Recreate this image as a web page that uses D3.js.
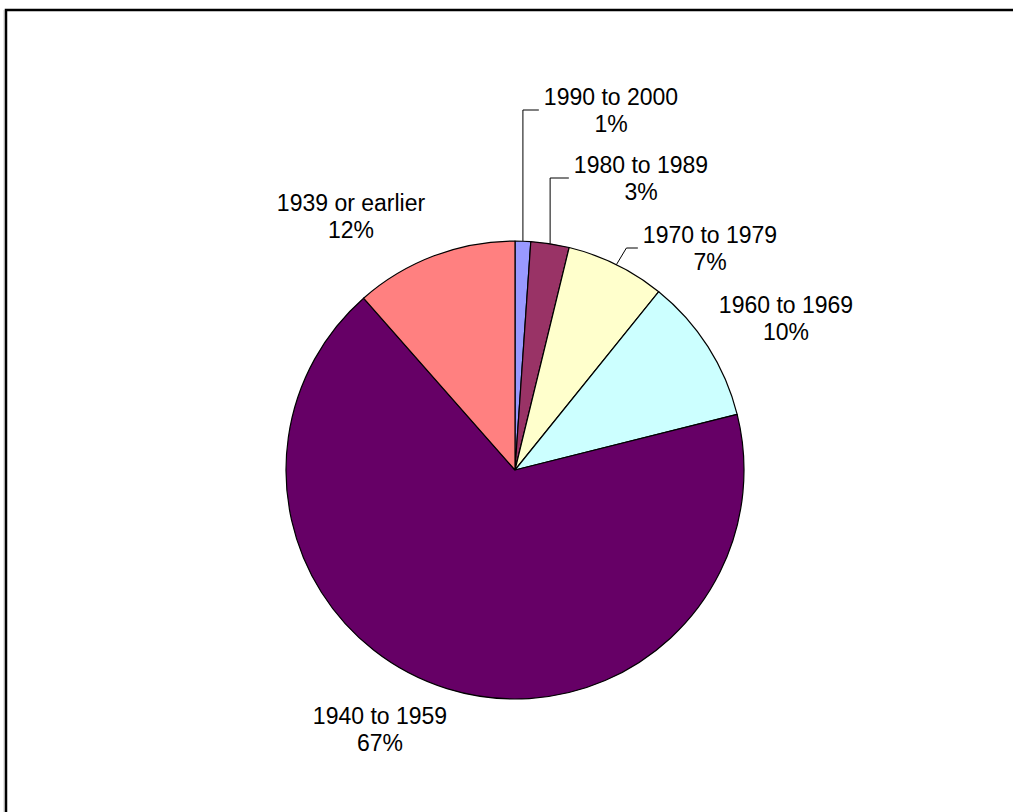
<!DOCTYPE html>
<html>
<head>
<meta charset="utf-8">
<script src="https://cdn.jsdelivr.net/npm/d3@7"></script>
<style>
  body { margin: 0; background: #fff; }
  .pieLabel { font-family: "Liberation Sans", Arial, sans-serif; font-size: 23px; fill: #000; }
</style>
</head>
<body>
<svg id="chart" width="1013" height="812"></svg>
<script>
  // year built categories, clockwise from 12 o'clock
  var categories = [ "1990 to 2000", "1980 to 1989", "1970 to 1979", "1960 to 1969", "1940 to 1959", "1939 or earlier" ];
  var shares = [ 1.1, 2.7, 7.0, 10.3, 67.4, 11.5 ];
  var colors = [ "#9999ff", "#993366", "#ffffcc", "#ccffff", "#660066", "#ff8080" ];

  ( function() {
    var width = 1013, height = 812;
    var cx = 515, cy = 470, radius = 229;

    // label block centres relative to pie centre; leader = elbow offset for labels pulled away
    var labelLayout = {
      "1990 to 2000"    : { dx : 96,   dy : -360, leader : 0 },
      "1980 to 1989"    : { dx : 126,  dy : -292, leader : 0 },
      "1970 to 1979"    : { dx : 195,  dy : -222, leader : 10 },
      "1960 to 1969"    : { dx : 271,  dy : -152 },
      "1940 to 1959"    : { dx : -135, dy : 259 },
      "1939 or earlier" : { dx : -164, dy : -254 }
    };

    var svg = d3.select( "#chart" );

    svg.append( "rect" ).attr( "width" , width ).attr( "height" , height ).attr( "fill" , "#fff" );

    // chart area frame (runs off the right and bottom edges)
    svg.append( "line" ).attr( "x1" , 4 ).attr( "y1" , 10 ).attr( "x2" , 4 ).attr( "y2" , height + 5 )
       .attr( "stroke" , "#ccc" ).attr( "stroke-width" , 1 );
    svg.append( "rect" )
       .attr( "x" , 6 ).attr( "y" , 10 )
       .attr( "width" , width + 20 ).attr( "height" , height + 20 )
       .attr( "fill" , "none" ).attr( "stroke" , "#000" ).attr( "stroke-width" , 2.5 );

    var data = categories.map( function( c , i ) { return { name : c , value : shares[i] , color : colors[i] }; } );
    var total = d3.sum( shares );

    var pie = d3.pie().sort( null ).value( function( d ) { return d.value; } );
    var arc = d3.arc().innerRadius( 0 ).outerRadius( radius );
    var arcs = pie( data );

    var g = svg.append( "g" ).attr( "transform" , "translate(" + cx + "," + cy + ")" );

    g.selectAll( "path.slice" )
     .data( arcs )
     .enter().append( "path" )
     .attr( "class" , "slice" )
     .attr( "d" , arc )
     .attr( "fill" , function( d ) { return d.data.color; } )
     .attr( "stroke" , "#000" )
     .attr( "stroke-width" , 1.2 )
     .attr( "stroke-linejoin" , "round" );

    var labels = g.selectAll( "g.lbl" )
      .data( arcs )
      .enter().append( "g" )
      .attr( "class" , "lbl" );

    labels.each( function( d ) {
      var lay = labelLayout[ d.data.name ];
      var sel = d3.select( this );
      var pct = Math.round( d.data.value / total * 100 + 1e-9 ) + "%";

      var t1 = sel.append( "text" ).attr( "class" , "pieLabel" )
                  .attr( "x" , lay.dx ).attr( "y" , lay.dy - 5 )
                  .attr( "text-anchor" , "middle" ).text( d.data.name );
      sel.append( "text" ).attr( "class" , "pieLabel" )
         .attr( "x" , lay.dx ).attr( "y" , lay.dy + 22 )
         .attr( "text-anchor" , "middle" ).text( pct );

      if( lay.leader !== undefined )
      {
        var mid = ( d.startAngle + d.endAngle ) / 2;
        var px = radius * Math.sin( mid ), py = -radius * Math.cos( mid );
        var left = lay.dx - t1.node().getComputedTextLength() / 2 - 5;
        var pts = [ [ px , py ] , [ px + lay.leader , lay.dy ] , [ left , lay.dy ] ];
        sel.append( "path" )
           .attr( "d" , d3.line()( pts ) )
           .attr( "fill" , "none" )
           .attr( "stroke" , "#000" )
           .attr( "stroke-width" , 1 );
      }
    } );
  } )();
</script>
</body>
</html>
